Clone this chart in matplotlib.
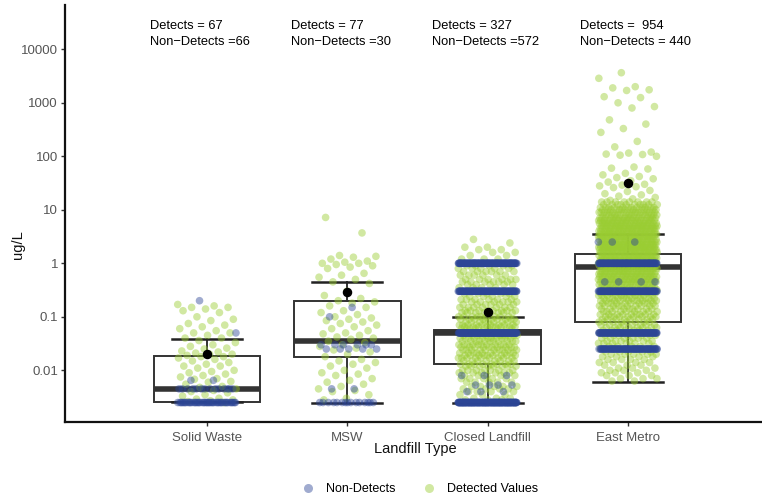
import numpy as np
import matplotlib
matplotlib.use("Agg")
import matplotlib.pyplot as plt
from matplotlib.lines import Line2D

plt.rcParams['font.family'] = ['Liberation Sans', 'DejaVu Sans']

# ---------------- data ----------------
categories = ["Solid Waste", "MSW", "Closed Landfill", "East Metro"]

# box statistics (ug/L)
box_q1 = [0.0026, 0.0178, 0.013, 0.08]
box_med = [0.0044, 0.035, 0.05, 0.85]
box_q3 = [0.0188, 0.20, 0.056, 1.5]
whisk_lo = [0.0026, 0.0025, 0.0025, 0.006]
whisk_hi = [0.039, 0.45, 0.10, 3.6]
means = [0.020, 0.29, 0.125, 32]

# annotation text
det_n = ["67", "77", "327", " 954"]
nd_n = ["=66", "=30", "=572", "= 440"]

# Solid Waste detected values
sw_det = [0.17, 0.16, 0.15, 0.15, 0.14, 0.13, 0.12, 0.1, 0.09, 0.085, 0.075, 0.07,
          0.065, 0.06, 0.055, 0.05, 0.05, 0.045, 0.04, 0.04, 0.036, 0.033, 0.03, 0.028,
          0.026, 0.025, 0.023, 0.022, 0.021, 0.02, 0.02, 0.019, 0.018, 0.018, 0.017,
          0.016, 0.015, 0.014, 0.013, 0.012, 0.012, 0.011, 0.01, 0.0095, 0.009, 0.0085,
          0.008, 0.0075, 0.007, 0.0068, 0.0062, 0.006, 0.0055, 0.005, 0.0048, 0.0045,
          0.0042, 0.004, 0.0038, 0.0035, 0.0033, 0.003, 0.0029, 0.0028, 0.0027, 0.0026,
          0.0025]
sw_nd_levels = [0.2, 0.05, 0.0065, 0.0045, 0.0025]
sw_nd_counts = [1, 1, 2, 14, 48]

# MSW detected values
msw_det = [7.2, 3.7, 1.4, 1.35, 1.3, 1.2, 1.1, 1.05, 1.0, 1.0, 0.95, 0.9, 0.85, 0.8,
           0.65, 0.6, 0.55, 0.5, 0.45, 0.42, 0.3, 0.25, 0.22, 0.2, 0.19, 0.18, 0.16,
           0.15, 0.13, 0.12, 0.11, 0.1, 0.095, 0.09, 0.085, 0.08, 0.075, 0.07, 0.065,
           0.06, 0.055, 0.05, 0.048, 0.045, 0.042, 0.04, 0.038, 0.035, 0.033, 0.03,
           0.028, 0.026, 0.024, 0.022, 0.02, 0.018, 0.016, 0.015, 0.014, 0.013, 0.012,
           0.011, 0.01, 0.009, 0.0085, 0.008, 0.007, 0.0065, 0.006, 0.0055, 0.005,
           0.0045, 0.0042, 0.004, 0.0035, 0.003, 0.0028]
msw_nd_levels = [0.15, 0.1, 0.03, 0.025, 0.0045, 0.0025]
msw_nd_counts = [1, 1, 6, 5, 2, 15]

# Closed Landfill detected values (value, count)
cl_det_levels = [2.8, 2.4, 2.0, 1.8, 1.6, 1.4, 1.2,
                 0.9, 0.8, 0.7, 0.6, 0.5, 0.45, 0.4, 0.35,
                 0.27, 0.24, 0.21, 0.19, 0.17, 0.15, 0.13, 0.12, 0.1, 0.09, 0.08, 0.07,
                 0.065, 0.06,
                 0.045, 0.04, 0.035, 0.03, 0.027, 0.024, 0.021, 0.019, 0.017, 0.015,
                 0.013, 0.012, 0.01, 0.009, 0.008, 0.007, 0.006, 0.005, 0.0045, 0.004,
                 0.0035, 0.003, 0.0028]
cl_det_counts = [1, 1, 2, 2, 2, 2, 3,
                 5, 5, 6, 6, 6, 6, 5, 4,
                 5, 5, 6, 6, 6, 7, 8, 8, 9, 9, 9, 9, 9, 9,
                 11, 11, 11, 11, 10, 10, 10, 9, 9, 8,
                 8, 8, 7, 6, 5, 5, 5, 5, 4, 4,
                 3, 3, 3]
cl_nd_levels = [1.0, 0.3, 0.05, 0.008, 0.0053, 0.004, 0.0025]
cl_nd_counts = [130, 110, 150, 3, 4, 3, 172]

# East Metro detected values: sparse upper tail, then (value, count) bulk
em_det_tail = [3650, 2870, 2000, 1900, 1750, 1700, 1300, 1250, 1000, 850, 800, 480,
               400, 330, 280, 190, 150, 120, 115, 110, 108, 105, 100, 63, 60, 58, 48,
               45, 42, 40, 38, 35, 33, 30, 29, 28, 27, 26, 23, 22, 20, 19, 18, 17, 16, 15]
em_det_levels = [14, 12.5, 11, 10, 9, 8, 7, 6.3, 5.6, 5, 4.5, 4, 3.5, 3.2, 2.8, 2.5,
                 2.2, 2.0, 1.8, 1.6, 1.4, 1.25, 1.1, 1.0, 0.9, 0.8, 0.7, 0.63, 0.56,
                 0.5, 0.45, 0.4, 0.35, 0.32, 0.28, 0.25, 0.22, 0.2, 0.18, 0.16, 0.14,
                 0.125, 0.11, 0.1, 0.09, 0.08, 0.07, 0.063, 0.056, 0.05, 0.045, 0.04,
                 0.035, 0.032, 0.028, 0.025, 0.022, 0.02, 0.018, 0.016, 0.014, 0.0125,
                 0.011, 0.01, 0.009, 0.008, 0.007, 0.0063]
em_det_counts = [8, 10, 12, 14, 15, 18, 19, 21, 22, 23, 23, 24, 24, 24, 24, 24,
                 24, 24, 24, 24, 24, 24, 24, 24, 23, 23, 22, 21, 20,
                 19, 18, 16, 15, 14, 12, 11, 11, 10, 10, 10, 9,
                 9, 9, 9, 8, 8, 8, 8, 7, 7, 7, 6,
                 6, 6, 5, 5, 5, 5, 4, 4, 4, 3,
                 3, 3, 3, 3, 3, 2]
em_nd_levels = [2.5, 1.0, 0.45, 0.3, 0.05, 0.025]
em_nd_counts = [3, 125, 4, 115, 110, 83]

# ---------------- assemble ----------------
det_groups = [
    np.array(sw_det),
    np.array(msw_det),
    np.repeat(cl_det_levels, cl_det_counts),
    np.concatenate([em_det_tail, np.repeat(em_det_levels, em_det_counts)]),
]
nd_groups = [
    np.repeat(sw_nd_levels, sw_nd_counts),
    np.repeat(msw_nd_levels, msw_nd_counts),
    np.repeat(cl_nd_levels, cl_nd_counts),
    np.repeat(em_nd_levels, em_nd_counts),
]

GREEN = "#9ACD32"
BLUE = "#2C4596"
JW = 0.21  # jitter half-width (category units)


def jitter(n, phase):
    k = np.arange(n)
    return ((k * 0.6180339887 + phase) % 1.0 - 0.5) * 2 * JW


fig = plt.figure(figsize=(7.62, 4.95), dpi=100)
ax = fig.add_axes([65 / 762, 1 - 422 / 495, 1 - 65 / 762, (422 - 5) / 495])

positions = np.arange(1, len(categories) + 1)

stats = []
for i in range(len(categories)):
    stats.append(dict(med=box_med[i], q1=box_q1[i], q3=box_q3[i],
                      whislo=whisk_lo[i], whishi=whisk_hi[i], fliers=[]))
ax.bxp(stats, positions=positions, widths=0.76, capwidths=0.5,
       showfliers=False, patch_artist=True, manage_ticks=False,
       boxprops=dict(facecolor="white", edgecolor="#333333", linewidth=1.4),
       medianprops=dict(color="#333333", linewidth=4.0, solid_capstyle="butt"),
       whiskerprops=dict(color="#333333", linewidth=1.4),
       capprops=dict(color="#222222", linewidth=1.8),
       zorder=1)

for i, p in enumerate(positions):
    d = det_groups[i]
    ax.scatter(p + jitter(len(d), 0.13 * i), d, s=30, color=GREEN, alpha=0.45,
               edgecolors="none", zorder=2)
for i, p in enumerate(positions):
    nd = nd_groups[i]
    ax.scatter(p + jitter(len(nd), 0.37 + 0.21 * i), nd, s=30, color=BLUE, alpha=0.45,
               edgecolors="none", zorder=3)

ax.scatter(positions, means, s=34, color="black", zorder=5)

ax.set_yscale("log")
ax.set_ylim(10 ** -2.966, 10 ** 4.828)
ax.set_xlim(-0.014, 4.957)

yt = [0.01, 0.1, 1, 10, 100, 1000, 10000]
ax.set_yticks(yt)
ax.set_yticklabels(["0.01", "0.1", "1", "10", "100", "1000", "10000"])
ax.yaxis.set_minor_locator(matplotlib.ticker.NullLocator())
ax.set_xticks(positions)
ax.set_xticklabels(categories)
ax.tick_params(axis="both", length=3, width=1.0, color="#333333",
               labelcolor="#555555", labelsize=9.5)
ax.tick_params(axis="x", pad=4)
ax.tick_params(axis="y", pad=2)

for s in ["top", "right"]:
    ax.spines[s].set_visible(False)
for s in ["left", "bottom"]:
    ax.spines[s].set_linewidth(1.6)
    ax.spines[s].set_color("#111111")

# annotations
ann_x = [0.593, 1.6, 2.6, 3.657]
for i in range(len(categories)):
    ax.text(ann_x[i], 10 ** 4.435, "Detects = " + det_n[i], fontsize=9.3,
            ha="left", va="center", color="black", zorder=6)
    ax.text(ann_x[i], 10 ** 4.14, "Non\u2212Detects " + nd_n[i], fontsize=9.3,
            ha="left", va="center", color="black", zorder=6)

fig.text(415 / 762, 1 - 449 / 495, "Landfill Type", ha="center", va="center",
         fontsize=10.5, color="#111111")
fig.text(18 / 762, 1 - 245 / 495, "ug/L", ha="center", va="center",
         rotation=90, fontsize=10.5, color="#111111")

handles = [
    Line2D([], [], marker="o", linestyle="none", markersize=6.5,
           markerfacecolor=BLUE, markeredgecolor="none", alpha=0.45, label="Non-Detects"),
    Line2D([], [], marker="o", linestyle="none", markersize=6.5,
           markerfacecolor=GREEN, markeredgecolor="none", alpha=0.45, label="Detected Values"),
]
fig.legend(handles=handles, loc="center", bbox_to_anchor=(420 / 762, 1 - 489 / 495),
           ncol=2, frameon=False, fontsize=9, handletextpad=0.9, columnspacing=2.2,
           handlelength=1.0)

fig.savefig("out.png", dpi=100)
